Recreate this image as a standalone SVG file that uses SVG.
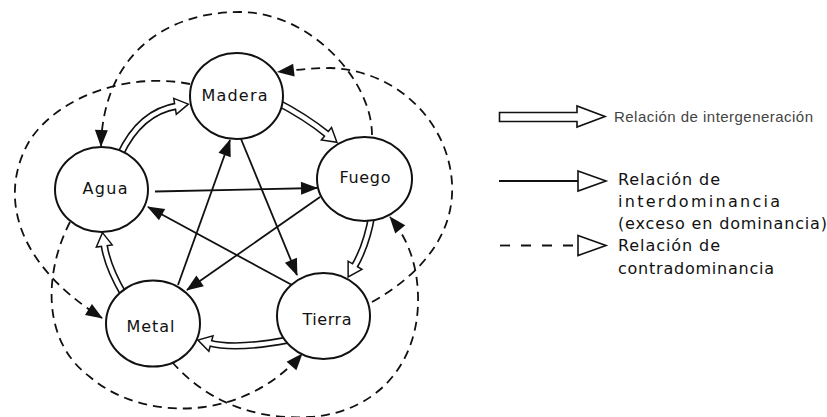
<svg xmlns="http://www.w3.org/2000/svg" width="827" height="417" viewBox="0 0 827 417">
  <style>
    .node ellipse { fill: #fff; stroke: #111; stroke-width: 2; }
    .label { font-family: "DejaVu Sans", "Liberation Sans", sans-serif; font-size: 16px; fill: #111; text-anchor: middle; }
    .dom { fill: none; stroke: #111; stroke-width: 1.8; }
    .contra { fill: none; stroke: #111; stroke-width: 1.8; stroke-dasharray: 9 6; }
    .bandOut { fill: none; stroke: #111; stroke-width: 7.5; }
    .bandIn { fill: none; stroke: #fff; stroke-width: 4.3; }
    .legend { font-family: "DejaVu Sans", "Liberation Sans", sans-serif; font-size: 16px; fill: #111; }
    .legend.light { font-family: "Liberation Sans", "DejaVu Sans", sans-serif; font-size: 15px; fill: #444; }
    .hollow { fill: #fff; stroke: #111; stroke-width: 1.6; stroke-linejoin: miter; }
  </style>
  <defs>
    <marker id="tip" markerUnits="userSpaceOnUse" viewBox="-18 -8 20 16" markerWidth="20" markerHeight="16" refX="0" refY="0" orient="auto">
      <path d="M1,0 L-16,-6.5 L-16,6.5 Z" fill="#111"/>
    </marker>
    <marker id="gen" markerUnits="userSpaceOnUse" viewBox="-3 -10 20 20" markerWidth="20" markerHeight="20" refX="2" refY="0" orient="auto">
      <path d="M0,-8 L13.5,0 L0,8 Z" fill="#fff" stroke="#111" stroke-width="1.5" stroke-linejoin="miter"/>
    </marker>
  </defs>

  <rect width="827" height="417" fill="#fff"/>

  <!-- connectors -->
  <g id="connectors">
    <!-- generation cycle (hollow band arrows) -->
    <g id="generation">
      <path class="bandOut" d="M275,101 Q306,117 328,135" marker-end="url(#gen)"/>
      <path class="bandIn" d="M275,101 Q306,117 328,135"/>
      <path class="bandOut" d="M372,214 Q367,245 354,267" marker-end="url(#gen)"/>
      <path class="bandIn" d="M372,214 Q367,245 354,267"/>
      <path class="bandOut" d="M288,340 Q235,350 209,343" marker-end="url(#gen)"/>
      <path class="bandIn" d="M288,340 Q235,350 209,343"/>
      <path class="bandOut" d="M124,295 Q107,266 104,244" marker-end="url(#gen)"/>
      <path class="bandIn" d="M124,295 Q107,266 104,244"/>
      <path class="bandOut" d="M120,155 Q140,112 177,106" marker-end="url(#gen)"/>
      <path class="bandIn" d="M120,155 Q140,112 177,106"/>
    </g>
    <!-- domination star (solid arrows) -->
    <g id="domination">
      <path class="dom" d="M155,191.5 L317,188" marker-end="url(#tip)"/>
      <path class="dom" d="M292,285 L148,207" marker-end="url(#tip)"/>
      <path class="dom" d="M241,139 L297,275" marker-end="url(#tip)"/>
      <path class="dom" d="M178,285 L230,140" marker-end="url(#tip)"/>
      <path class="dom" d="M320,197 L187,290" marker-end="url(#tip)"/>
    </g>
    <!-- counter-domination (dashed arrows) -->
    <g id="counter">
      <path class="contra" d="M372,135 C372,80 310,12 240,12 C160,12 103,60 101,146" marker-end="url(#tip)"/>
      <path class="contra" d="M372,302 C420,275 455,235 452,183 C448,120 395,70 330,68 C310,68 295,70 278,72" marker-end="url(#tip)"/>
      <path class="contra" d="M70,222 C45,270 40,340 90,377 C140,420 240,425 302,354" marker-end="url(#tip)"/>
      <path class="contra" d="M172,362 C210,405 260,420 310,417 C380,412 420,360 418,295 C417,260 405,235 390,217" marker-end="url(#tip)"/>
      <path class="contra" d="M190,84 C130,72 60,95 30,140 C0,190 10,260 102,318" marker-end="url(#tip)"/>
    </g>
  </g>

  <!-- elements -->
  <g id="madera" class="node">
    <ellipse cx="236.5" cy="96" rx="46.5" ry="43"/>
    <text class="label" x="234.5" y="100.5" textLength="66">Madera</text>
  </g>
  <g id="agua" class="node">
    <ellipse cx="101.5" cy="189.5" rx="46.5" ry="42.5"/>
    <text class="label" x="105" y="193.5" textLength="45">Agua</text>
  </g>
  <g id="fuego" class="node">
    <ellipse cx="364.5" cy="179" rx="47.5" ry="42"/>
    <text class="label" x="365" y="182.5" textLength="51">Fuego</text>
  </g>
  <g id="metal" class="node">
    <ellipse cx="153" cy="323.5" rx="47" ry="43"/>
    <text class="label" x="150.5" y="331.5" textLength="48">Metal</text>
  </g>
  <g id="tierra" class="node">
    <ellipse cx="323.5" cy="316" rx="46.5" ry="43"/>
    <text class="label" x="327" y="324.5" textLength="49">Tierra</text>
  </g>

  <!-- legend -->
  <g id="legend">
    <path class="hollow" d="M499.5,112.5 L577,112.5 L577,106 L605,116.5 L577,127 L577,121.5 L499.5,121.5 Z"/>
    <text class="legend light" x="614" y="122" textLength="199">Relación de intergeneración</text>

    <line x1="499" y1="181" x2="578" y2="181" stroke="#111" stroke-width="1.8"/>
    <path class="hollow" d="M578,171 L606,181 L578,191 Z"/>
    <text class="legend" x="618" y="185" textLength="102">Relación de</text>
    <text class="legend" x="618" y="207" textLength="162">interdominancia</text>
    <text class="legend" x="618" y="228.5" textLength="209">(exceso en dominancia)</text>

    <line x1="500" y1="245.5" x2="578" y2="245.5" stroke="#111" stroke-width="1.8" stroke-dasharray="10 11"/>
    <path class="hollow" d="M578,235.5 L606,245.5 L578,255.5 Z"/>
    <text class="legend" x="618" y="251" textLength="102">Relación de</text>
    <text class="legend" x="618" y="273.5" textLength="156">contradominancia</text>
  </g>
</svg>
